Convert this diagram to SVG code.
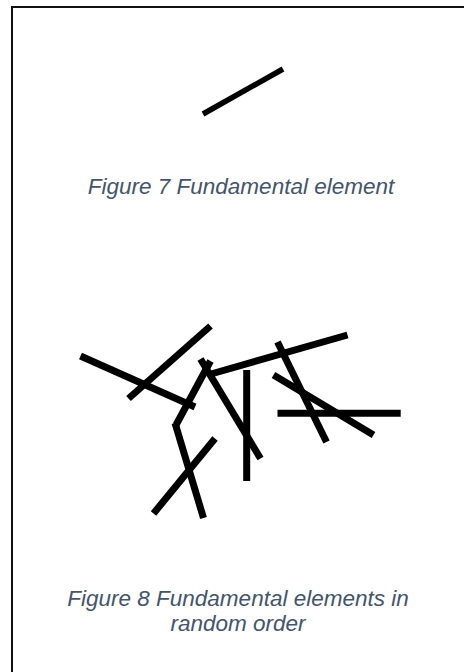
<svg xmlns="http://www.w3.org/2000/svg" width="464" height="672" viewBox="0 0 464 672">
<style>
.frame{fill:none;stroke:#111;stroke-width:2}
.bar{stroke:#000;stroke-width:7;stroke-linecap:butt;fill:none}
.cap{font-family:"Liberation Sans",Arial,sans-serif;font-style:italic;font-size:22.5px;fill:#44546A;text-anchor:middle}
</style>
<rect width="464" height="672" fill="#fff"/>
<path class="frame" d="M12,672 V7 H464"/>
<g id="fig7">
<line class="bar" style="stroke-width:5.5" x1="203" y1="114" x2="283" y2="69"/>
<text class="cap" x="241" y="194">Figure 7 Fundamental element</text>
</g>
<g id="fig8">
<line class="bar" x1="80.5" y1="356" x2="195" y2="407"/>
<line class="bar" x1="210.5" y1="326" x2="128.5" y2="398.5"/>
<line class="bar" x1="200.5" y1="359" x2="260.5" y2="458.5"/>
<line class="bar" x1="210.5" y1="361" x2="176" y2="425"/>
<line class="bar" x1="175" y1="423" x2="203.5" y2="518"/>
<line class="bar" x1="207.5" y1="375" x2="347.5" y2="335"/>
<line class="bar" x1="246.7" y1="370" x2="246.7" y2="481"/>
<line class="bar" x1="277.5" y1="342" x2="326.5" y2="442"/>
<line class="bar" x1="273.5" y1="375" x2="373.5" y2="435"/>
<line class="bar" x1="277.5" y1="413.3" x2="400.7" y2="413.3"/>
<line class="bar" x1="215" y1="438.5" x2="153.5" y2="513.5"/>
<text class="cap" x="238" y="606">Figure 8 Fundamental elements in</text>
<text class="cap" x="238" y="631">random order</text>
</g>
</svg>
